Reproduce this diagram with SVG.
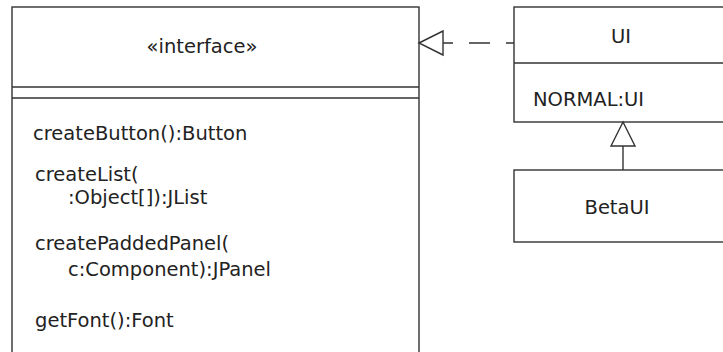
<svg xmlns="http://www.w3.org/2000/svg" width="723" height="352" viewBox="0 0 723 352">
<style>
.box{fill:#fff;stroke:#333;stroke-width:1.4}
.ln{stroke:#333;stroke-width:1.4;fill:none}
.head{fill:#fff;stroke:#333;stroke-width:1.4}
text{font-family:"DejaVu Sans","Liberation Sans",sans-serif;font-size:19.5px;fill:#222}
.c{text-anchor:middle}
</style>
<rect width="723" height="352" fill="#fff"/>
<g id="iface">
<rect class="box" x="12" y="7" width="407" height="360"/>
<line class="ln" x1="12" y1="87" x2="419" y2="87"/>
<line class="ln" x1="12" y1="98" x2="419" y2="98"/>
<text class="c" x="202" y="53">«interface»</text>
<text x="33" y="140">createButton():Button</text>
<text x="35" y="181">createList(</text>
<text x="68" y="204">:Object[]):JList</text>
<text x="35" y="250">createPaddedPanel(</text>
<text x="68" y="276">c:Component):JPanel</text>
<text x="35" y="327">getFont():Font</text>
</g>
<g id="ui">
<rect class="box" x="514" y="7" width="220" height="115"/>
<line class="ln" x1="514" y1="63" x2="734" y2="63"/>
<text class="c" x="621" y="43">UI</text>
<text x="533" y="106">NORMAL:UI</text>
</g>
<g id="betaui">
<rect class="box" x="514" y="170" width="220" height="72"/>
<text class="c" x="617" y="214">BetaUI</text>
</g>
<g id="connectors">
<line class="ln" x1="443" y1="43" x2="514" y2="43" stroke-dasharray="10 16 21 16 10"/>
<polygon class="head" points="419,43 443,31 443,55"/>
<line class="ln" x1="623" y1="146" x2="623" y2="170"/>
<polygon class="head" points="623,122 611,146 635,146"/>
</g>
</svg>
